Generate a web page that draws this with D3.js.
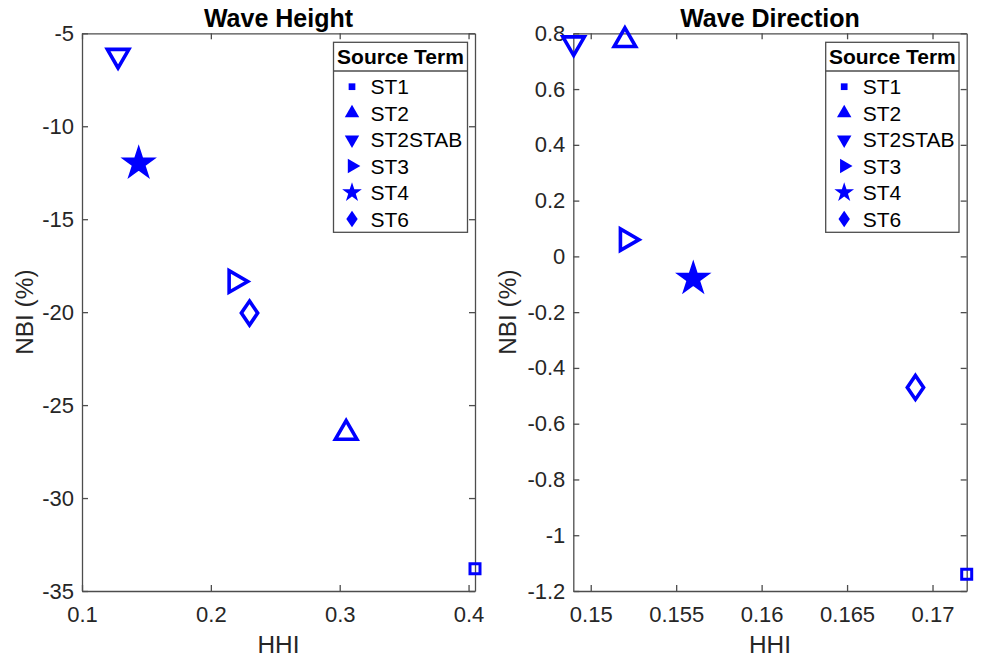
<!DOCTYPE html>
<html>
<head>
<meta charset="utf-8">
<script src="https://cdn.jsdelivr.net/npm/d3@7"></script>
<style>
  body { margin: 0; background: #fff; }
  svg { font-family: "Liberation Sans", Arial, sans-serif; }
</style>
</head>
<body>
<script>
// source terms and their scores
var terms = ["ST1", "ST2", "ST2STAB", "ST3", "ST4", "ST6"];
var hhiHeight = [0.405, 0.305, 0.128, 0.219, 0.144, 0.230];
var nbiHeight = [-33.8, -26.5, -6.2, -18.35, -12.0, -20.05];
var hhiDir = [0.172, 0.152, 0.149, 0.1521, 0.156, 0.169];
var nbiDir = [-1.14, 0.775, 0.765, 0.06, -0.08, -0.47];

// tick labels
var heightXTicks = [0.1, 0.2, 0.3, 0.4];
var heightYTicks = [-35, -30, -25, -20, -15, -10, -5];
var dirXTicks = [0.15, 0.155, 0.16, 0.165, 0.17];
var dirYTicks = [-1.2, -1, -0.8, -0.6, -0.4, -0.2, 0, 0.2, 0.4, 0.6, 0.8];

var w = 982, h = 657;
var plotTop = 33.3, plotBottom = 591;
var axisColor = "#4d4d4d", textColor = "#262626", blue = "#0000ff";

// matlab style diamond, a bit wider than d3's own
var wideDiamond = {
  draw: function(ctx, size) {
    var hh = Math.sqrt(2 * size / 0.68) / 2, hw = hh * 0.68;
    ctx.moveTo(0, -hh);
    ctx.lineTo(hw, 0);
    ctx.lineTo(0, hh);
    ctx.lineTo(-hw, 0);
    ctx.closePath();
  }
};

// marker shape per source term: symbol, rotation, plot size, legend size
var shapes = {
  ST1: {type: d3.symbolSquare, rot: 0, size: 100, lsize: 45},
  ST2: {type: d3.symbolTriangle, rot: 0, size: 200, lsize: 90},
  ST2STAB: {type: d3.symbolTriangle, rot: 180, size: 200, lsize: 90},
  ST3: {type: d3.symbolTriangle, rot: 90, size: 200, lsize: 90},
  ST4: {type: d3.symbolStar, rot: 0, size: 200, lsize: 120},
  ST6: {type: wideDiamond, rot: 0, size: 195, lsize: 95}
};

var panels = [
  {title: "Wave Height", x0: 82, x1: 475, xDom: [0.1, 0.405], yDom: [-35, -5],
   xTicks: heightXTicks, yTicks: heightYTicks, xs: hhiHeight, ys: nbiHeight,
   ylabX: 33, legX: 333.5, legW: 134},
  {title: "Wave Direction", x0: 573.3, x1: 966.7, xDom: [0.14898, 0.172], yDom: [-1.2, 0.8],
   xTicks: dirXTicks, yTicks: dirYTicks, xs: hhiDir, ys: nbiDir,
   ylabX: 516, legX: 825.7, legW: 133.3}
];

var svg = d3.select("body").append("svg")
  .attr("width", w)
  .attr("height", h);

panels.forEach(function(p) {
  var xScale = d3.scaleLinear().domain(p.xDom).range([p.x0, p.x1]);
  var yScale = d3.scaleLinear().domain(p.yDom).range([plotBottom, plotTop]);
  var fmt = function(d) { return String(d); };
  var g = svg.append("g");

  // box with ticks pointing inward on all four sides
  var axes = [
    {ax: d3.axisBottom(xScale).tickValues(p.xTicks).tickFormat(fmt), t: "translate(0," + plotBottom + ")", pad: 15},
    {ax: d3.axisTop(xScale).tickValues(p.xTicks).tickFormat(""), t: "translate(0," + plotTop + ")", pad: 8},
    {ax: d3.axisLeft(yScale).tickValues(p.yTicks).tickFormat(fmt), t: "translate(" + p.x0 + ",0)", pad: 8},
    {ax: d3.axisRight(yScale).tickValues(p.yTicks).tickFormat(""), t: "translate(" + p.x1 + ",0)", pad: 8}
  ];
  axes.forEach(function(a) {
    var ag = g.append("g")
      .attr("transform", a.t)
      .call(a.ax.tickSizeInner(-6).tickSizeOuter(0).tickPadding(a.pad));
    ag.select(".domain").attr("stroke", axisColor).attr("stroke-width", 1.3);
    ag.selectAll(".tick line").attr("stroke", axisColor).attr("stroke-width", 1.3);
    ag.selectAll(".tick text")
      .attr("fill", textColor)
      .style("font-size", "22px");
  });

  // title and axis labels
  g.append("text")
    .attr("x", (p.x0 + p.x1) / 2)
    .attr("y", 27.3)
    .attr("text-anchor", "middle")
    .attr("font-weight", "bold")
    .attr("fill", "#000")
    .style("font-size", "25px")
    .text(p.title);

  g.append("text")
    .attr("x", (p.x0 + p.x1) / 2)
    .attr("y", 653)
    .attr("text-anchor", "middle")
    .attr("fill", textColor)
    .style("font-size", "24.4px")
    .text("HHI");

  g.append("text")
    .attr("transform", "translate(" + p.ylabX + "," + ((plotTop + plotBottom) / 2) + ") rotate(-90)")
    .attr("text-anchor", "middle")
    .attr("fill", textColor)
    .style("font-size", "24.4px")
    .text("NBI (%)");

  // hollow markers with heavy outline
  g.selectAll(".pt")
    .data(terms)
    .enter().append("path")
    .attr("class", "pt")
    .attr("d", function(d) { return d3.symbol().type(shapes[d].type).size(shapes[d].size)(); })
    .attr("transform", function(d, i) {
      return "translate(" + xScale(p.xs[i]) + "," + yScale(p.ys[i]) + ") rotate(" + shapes[d].rot + ")";
    })
    .attr("fill", function(d) { return d === "ST4" ? blue : "none"; })
    .attr("stroke", blue)
    .attr("stroke-width", function(d) { return d === "ST1" ? 3 : 3.6; })
    .attr("stroke-linejoin", "miter");

  // legend
  var legTop = 42.3, legSep = 71, legBottom = 232.3;
  var leg = g.append("g");
  leg.append("rect")
    .attr("x", p.legX).attr("y", legTop)
    .attr("width", p.legW).attr("height", legBottom - legTop)
    .attr("fill", "#fff")
    .attr("stroke", axisColor)
    .attr("stroke-width", 1.3);
  leg.append("line")
    .attr("x1", p.legX).attr("x2", p.legX + p.legW)
    .attr("y1", legSep).attr("y2", legSep)
    .attr("stroke", axisColor)
    .attr("stroke-width", 1.3);
  leg.append("text")
    .attr("x", p.legX + p.legW / 2)
    .attr("y", 64)
    .attr("text-anchor", "middle")
    .attr("font-weight", "bold")
    .attr("fill", "#000")
    .style("font-size", "21px")
    .text("Source Term");

  var rowY = d3.scalePoint().domain(terms).range([86.7, 219]);
  var rows = leg.selectAll(".row")
    .data(terms)
    .enter().append("g")
    .attr("class", "row")
    .attr("transform", function(d) { return "translate(" + p.legX + "," + rowY(d) + ")"; });
  rows.append("path")
    .attr("d", function(d) { return d3.symbol().type(shapes[d].type).size(shapes[d].lsize)(); })
    .attr("transform", function(d) { return "translate(18.5,0) rotate(" + shapes[d].rot + ")"; })
    .attr("fill", blue);
  rows.append("text")
    .attr("x", 37)
    .attr("y", 7.5)
    .attr("fill", "#000")
    .style("font-size", "21px")
    .text(function(d) { return d; });
});
</script>
</body>
</html>
